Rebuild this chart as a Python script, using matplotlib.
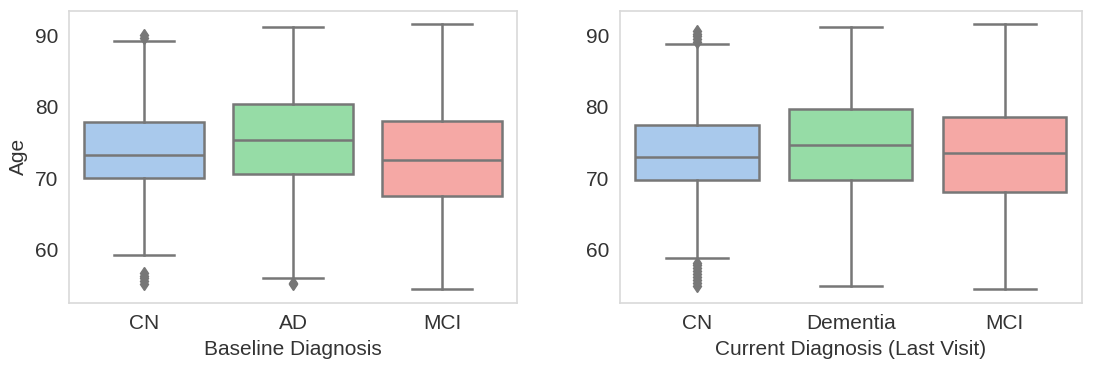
import colorsys
import matplotlib
matplotlib.use("Agg")
import matplotlib.pyplot as plt
import matplotlib.colors as mcolors

plt.rcParams["font.family"] = ["Liberation Sans", "DejaVu Sans"]

# box statistics (Age)
base_cats = ["CN", "AD", "MCI"]
base_whislo = [59.2, 56.0, 54.5]
base_q1 = [70.0, 70.6, 67.5]
base_med = [73.3, 75.4, 72.6]
base_q3 = [77.8, 80.4, 78.0]
base_whishi = [89.1, 91.1, 91.5]
base_fliers = [[55.2, 55.6, 56.0, 56.4, 56.7, 89.6, 90.0],
               [55.2, 55.4],
               []]

cur_cats = ["CN", "Dementia", "MCI"]
cur_whislo = [58.8, 55.0, 54.5]
cur_q1 = [69.8, 69.8, 68.0]
cur_med = [73.0, 74.6, 73.5]
cur_q3 = [77.4, 79.7, 78.6]
cur_whishi = [88.7, 91.1, 91.5]
cur_fliers = [[55.0, 55.4, 55.8, 56.2, 56.6, 57.0, 57.4, 57.8, 58.2,
               89.0, 89.4, 89.8, 90.2, 90.6],
              [],
              []]

pastel = ["#a1c9f4", "#8de5a1", "#ff9f9b"]
line_gray = "#777777"
text_col = "#333333"
fs = 15


def desat(c, s=0.8):
    r, g, b = mcolors.to_rgb(c)
    h, l, sat = colorsys.rgb_to_hls(r, g, b)
    return colorsys.hls_to_rgb(h, l, sat * s)


def draw(ax, cats, lo, q1, med, q3, hi, fl):
    stats = []
    for i, c in enumerate(cats):
        stats.append(dict(label=c, whislo=lo[i], q1=q1[i], med=med[i],
                          q3=q3[i], whishi=hi[i], fliers=fl[i]))
    lw = 1.8
    bp = ax.bxp(stats, positions=range(len(cats)), widths=0.8,
                patch_artist=True, showfliers=True,
                boxprops=dict(edgecolor=line_gray, linewidth=lw),
                medianprops=dict(color=line_gray, linewidth=lw),
                whiskerprops=dict(color=line_gray, linewidth=lw),
                capprops=dict(color=line_gray, linewidth=lw),
                flierprops=dict(marker="d", markerfacecolor=line_gray,
                                markeredgecolor=line_gray, markersize=6))
    for patch, col in zip(bp["boxes"], pastel):
        patch.set_facecolor(desat(col))
    ax.set_xlim(-0.5, len(cats) - 0.5)
    ax.set_ylim(52.6, 93.4)
    ax.set_yticks([60, 70, 80, 90])
    ax.set_xticks(range(len(cats)))
    ax.set_xticklabels(cats)
    ax.grid(False)
    for sp in ax.spines.values():
        sp.set_color("#d9d9d9")
        sp.set_linewidth(1.2)
    ax.tick_params(length=0, labelsize=fs, colors=text_col, pad=8)


fig = plt.figure(figsize=(10.94, 3.69), dpi=100)
ax1 = fig.add_axes([69.3 / 1094, 1 - 302.7 / 369, (516.7 - 69.3) / 1094, (302.7 - 10.7) / 369])
ax2 = fig.add_axes([620 / 1094, 1 - 302.7 / 369, (1081.7 - 620) / 1094, (302.7 - 10.7) / 369])

draw(ax1, base_cats, base_whislo, base_q1, base_med, base_q3, base_whishi, base_fliers)
draw(ax2, cur_cats, cur_whislo, cur_q1, cur_med, cur_q3, cur_whishi, cur_fliers)

ax1.set_xlabel("Baseline Diagnosis", fontsize=fs, color=text_col, labelpad=5)
ax1.set_ylabel("Age", fontsize=fs, color=text_col, labelpad=5)
ax2.set_xlabel("Current Diagnosis (Last Visit)", fontsize=fs, color=text_col, labelpad=5)

fig.savefig("out.png", dpi=100, facecolor="white")
